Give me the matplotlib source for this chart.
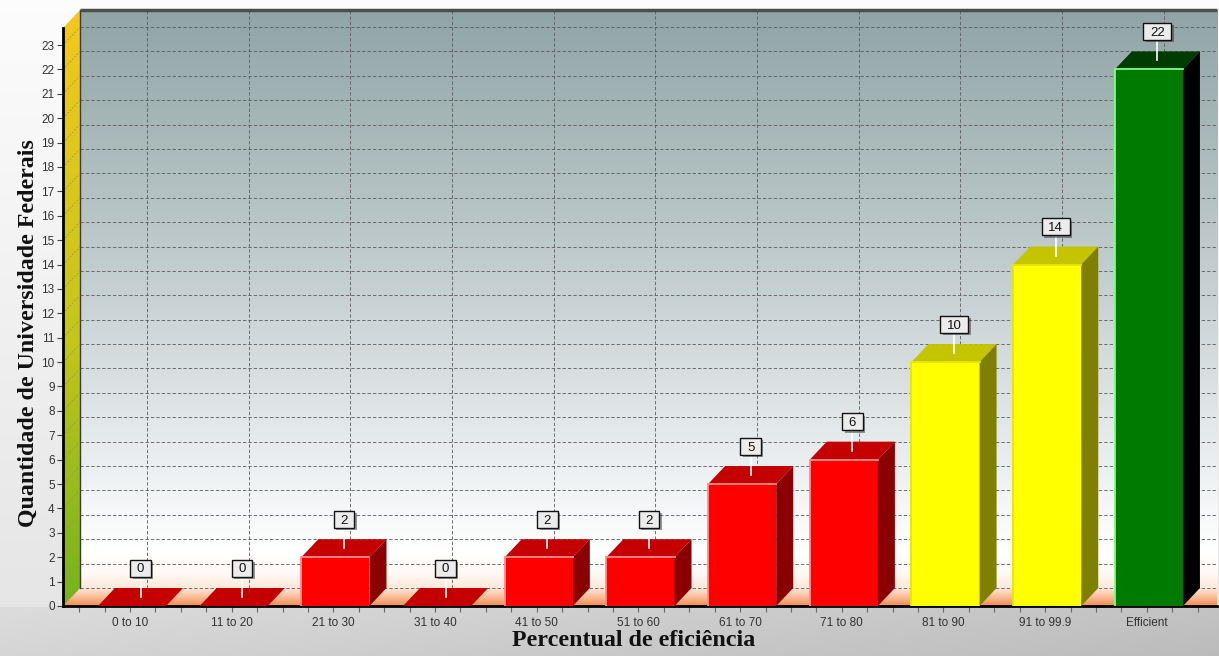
import numpy as np
import matplotlib
matplotlib.use("Agg")
import matplotlib.pyplot as plt
from matplotlib.patches import Polygon, Rectangle
from matplotlib.colors import to_rgb
from matplotlib.transforms import ScaledTranslation

plt.rcParams["font.family"] = ["Liberation Sans", "DejaVu Sans"]

# ---- data -------------------------------------------------------------
categories = ["0 to 10", "11 to 20", "21 to 30", "31 to 40", "41 to 50",
              "51 to 60", "61 to 70", "71 to 80", "81 to 90", "91 to 99.9",
              "Efficient"]
counts = [0, 0, 2, 0, 2, 2, 5, 6, 10, 14, 22]
groups = ["low"] * 8 + ["mid"] * 2 + ["top"]
y_ticks = list(range(0, 24))
x_label = "Percentual de eficiência"
y_label = "Quantidade de Universidade Federais"

palette = {
    "low": dict(front="#ff0000", top="#c40000", side="#8a0000", edge="#ff8c8c"),
    "mid": dict(front="#ffff00", top="#c4c400", side="#808000", edge="#e6e600"),
    "top": dict(front="#007a00", top="#003c00", side="#000000", edge="#7dff7d"),
}

W, H = 1219, 656
fig = plt.figure(figsize=(W / 100, H / 100), dpi=100)

# ---- figure background --------------------------------------------------
bg = fig.add_axes([0, 0, 1, 1], zorder=-10)
bg.axis("off")
rows = np.arange(H)[:, None].astype(float)
cols = np.arange(W)[None, :].astype(float) / W
upper = 0.99 - 0.09 * (rows / 606.0) + 0 * cols
lower = 0.865 - 0.10 * cols - 0.03 * (rows - 606) / 50.0
grey = np.where(rows < 607, upper, lower)
bg.imshow(np.dstack([grey] * 3).clip(0, 1), extent=(0, 1, 0, 1),
          aspect="auto", interpolation="bilinear")
bg.set_xlim(0, 1)
bg.set_ylim(0, 1)

# ---- main axes -------------------------------------------------------------
ax = fig.add_axes([63 / W, 50 / H, (1217 - 63) / W, (606 - 10) / H])
ax.patch.set_alpha(0)
X0, XR = -0.659, 10.69
YT = 596 / 24.39
DX, DY = 17 / 101.7, 18 / 24.39
ax.set_xlim(X0, XR)
ax.set_ylim(0, YT)


def gradient(stops, n=256):
    pos = np.array([s[0] for s in stops])
    cs = np.array([to_rgb(s[1]) for s in stops])
    t = np.linspace(0, 1, n)
    return np.stack([np.interp(t, pos, cs[:, k]) for k in range(3)], axis=1)[:, None, :]


# back wall
wall = gradient([(0, "#fde9dc"), (0.025, "#fffaf6"), (0.06, "#ffffff"),
                 (0.24, "#e8ecee"), (0.5, "#c8d2d4"), (0.8, "#a7b7b8"),
                 (1, "#91a5a6")])
ax.imshow(wall, extent=(X0 + DX, XR, DY, YT), origin="lower", aspect="auto",
          interpolation="bilinear", zorder=0)

# floor
floor_poly = Polygon([(X0, 0), (XR, 0), (XR, DY), (X0 + DX, DY)],
                     closed=True, facecolor="none", edgecolor="none")
ax.add_patch(floor_poly)
floor = gradient([(0, "#f48a50"), (0.45, "#f9b892"), (1, "#fde9dc")])
im = ax.imshow(floor, extent=(X0, XR, 0, DY), origin="lower", aspect="auto",
               interpolation="bilinear", zorder=1)
im.set_clip_path(floor_poly)

# left side wall
side_poly = Polygon([(X0, 0), (X0 + DX, DY), (X0 + DX, YT), (X0, YT - DY)],
                    closed=True, facecolor="none", edgecolor="none")
ax.add_patch(side_poly)
side = gradient([(0, "#74b31c"), (0.45, "#c4c61a"), (1, "#f4c81e")])
im = ax.imshow(side, extent=(X0, X0 + DX, 0, YT), origin="lower", aspect="auto",
               interpolation="bilinear", zorder=1)
im.set_clip_path(side_poly)
ax.plot([X0 + DX, X0 + DX], [DY, YT], color="#3a3a3a", lw=1.0, zorder=1.5)

# grid on the back wall and side wall
grid_kw = dict(color="#5a5a5a", lw=0.6, dashes=(4, 2.5), zorder=1.2)
for k in y_ticks:
    ax.plot([X0 + DX, XR], [k + DY, k + DY], **grid_kw)
    ax.plot([X0, X0 + DX], [k, k + DY], color="#9a9a40", lw=0.6,
            dashes=(2, 2), zorder=1.6)
for i in range(len(categories)):
    ax.plot([i + DX, i + DX], [DY, YT], **grid_kw)

# top border of the back wall
ax.plot([X0 + DX, XR], [YT, YT], color="#4e4e4e", lw=2.5, zorder=3,
        clip_on=False, solid_capstyle="butt")

# ---- bars ------------------------------------------------------------------
BW = 0.67
xs = np.arange(len(categories)) + 0.02
ax.bar(xs, counts, width=BW, color=[palette[g]["front"] for g in groups],
       linewidth=0, zorder=5)
for x, v, g in zip(xs, counts, groups):
    p = palette[g]
    l, r = x - BW / 2, x + BW / 2
    ax.add_patch(Polygon([(l, v), (r, v), (r + DX, v + DY), (l + DX, v + DY)],
                         closed=True, facecolor=p["top"], edgecolor="none",
                         zorder=5))
    if v > 0:
        ax.add_patch(Polygon([(r, 0), (r + DX, DY), (r + DX, v + DY), (r, v)],
                             closed=True, facecolor=p["side"],
                             edgecolor="none", zorder=5))
        ax.plot([l, l, r], [0, v, v], color=p["edge"], lw=1.3, zorder=6,
                solid_joinstyle="miter")

# ---- value labels ---------------------------------------------------------------
LAB = 38 / 24.39
for x, v in zip(xs, counts):
    lx = x + DX / 2
    ly = v + LAB
    ax.plot([lx, lx], [v + DY / 2, ly - 8.5 / 24.39], color="white", lw=1.2,
            zorder=7)
    s = str(v)
    w = (13 + 7.5 * len(s)) / 100
    h = 17 / 100
    anchor = ScaledTranslation(lx, ly, ax.transData)
    shadow = Rectangle((-w / 2 + 0.025, -h / 2 - 0.025), w, h,
                       transform=fig.dpi_scale_trans + anchor,
                       facecolor="#333333", alpha=0.5, edgecolor="none",
                       zorder=7.5, clip_on=False)
    box = Rectangle((-w / 2, -h / 2), w, h,
                    transform=fig.dpi_scale_trans + anchor,
                    facecolor="#ececec", edgecolor="#111111", lw=1.0,
                    zorder=8, clip_on=False)
    ax.add_patch(shadow)
    ax.add_patch(box)
    ax.text(lx, ly, s, ha="center", va="center_baseline", fontsize=9.5,
            color="#111111", zorder=9)

# ---- axes, ticks, labels --------------------------------------------------------
for side_name in ("top", "right"):
    ax.spines[side_name].set_visible(False)
ax.spines["left"].set_bounds(0, YT - DY)
ax.spines["left"].set_linewidth(2)
ax.spines["bottom"].set_linewidth(2)
ax.spines["left"].set_zorder(4)
ax.spines["bottom"].set_zorder(4)

ax.set_yticks(y_ticks)
ax.set_yticklabels([str(t) for t in y_ticks])
ax.set_xticks(np.arange(len(categories)))
ax.set_xticklabels(categories)
minor = [t for t in np.arange(-0.5, 10.6, 0.25) if abs(t - round(t)) > 1e-6]
ax.set_xticks(minor, minor=True)
ax.tick_params(axis="y", length=4, width=0.8, color="#444444", pad=2,
               labelsize=8.5, labelcolor="#333333")
ax.tick_params(axis="x", which="both", length=4, width=0.8, color="#666666",
               pad=4, labelsize=8.5, labelcolor="#333333")

fig.text(28 / W, 1 - 333 / H, y_label, rotation=90, ha="center", va="center",
         fontsize=17.2, fontweight="bold", family=["Liberation Serif"],
         color="#111111")
fig.text(634 / W, 1 - 641 / H, x_label, ha="center", va="center",
         fontsize=17.3, fontweight="bold", family=["Liberation Serif"],
         color="#111111")

fig.savefig("out.png", dpi=100)
